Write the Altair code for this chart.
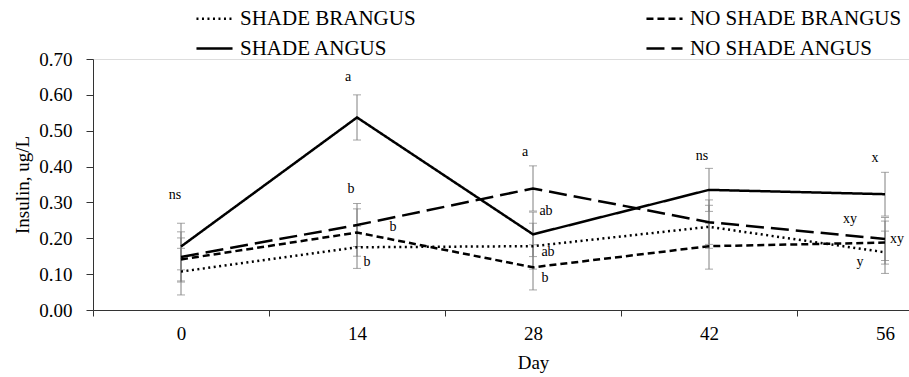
import altair as alt
import pandas as pd

days = [0, 14, 28, 42, 56]
series_names = ["SHADE BRANGUS", "SHADE ANGUS", "NO SHADE BRANGUS", "NO SHADE ANGUS"]

sb_mean = [0.107, 0.175, 0.178, 0.232, 0.161]
sb_se = [0.065, 0.059, 0.064, 0.060, 0.059]
sa_mean = [0.177, 0.537, 0.211, 0.335, 0.323]
sa_se = [0.065, 0.063, 0.062, 0.060, 0.061]
nsb_mean = [0.141, 0.216, 0.119, 0.178, 0.188]
nsb_se = [0.060, 0.066, 0.063, 0.064, 0.060]
nsa_mean = [0.148, 0.237, 0.339, 0.245, 0.198]
nsa_se = [0.070, 0.060, 0.063, 0.062, 0.060]

y_ticks = [0.0, 0.1, 0.2, 0.3, 0.4, 0.5, 0.6, 0.7]

ann_label = ["ns", "a", "b", "b", "b", "a", "ab", "ab", "b", "ns", "x", "xy", "xy", "y"]
ann_day = [0, 14, 14, 14, 14, 28, 28, 28, 28, 42, 56, 56, 56, 56]
ann_value = [0.321, 0.650, 0.337, 0.231, 0.134, 0.441, 0.276, 0.162, 0.089,
             0.429, 0.424, 0.254, 0.198, 0.134]
ann_dx = [-6, -9, -6, 36, 10, -8, 13, 15, 12, -7, -10, -35, 12, -25]

means = [sb_mean, sa_mean, nsb_mean, nsa_mean]
ses = [sb_se, sa_se, nsb_se, nsa_se]
rows = []
for name, m, s in zip(series_names, means, ses):
    for d, mv, sv in zip(days, m, s):
        rows.append({"day": str(d), "series": name, "mean": mv,
                     "lo": mv - sv, "hi": mv + sv})
df = pd.DataFrame(rows)

FONT = "Liberation Serif"
day_order = [str(d) for d in days]

x_enc = alt.X("day:O", sort=day_order, title="Day",
              scale=alt.Scale(range=[0, 880], paddingInner=0, paddingOuter=0),
              axis=alt.Axis(tickBand="extent", labelAngle=0, labelFont=FONT,
                            labelFontSize=19, titleFont=FONT, titleFontSize=19,
                            titleFontWeight="normal", labelColor="black",
                            titleColor="black", domainColor="#333333",
                            tickColor="#333333", tickSize=6, labelPadding=8,
                            titlePadding=10, grid=False))
y_scale = alt.Scale(domain=[0, 0.7], nice=False)
y_axis = alt.Axis(values=y_ticks, format=".2f", labelFont=FONT, labelFontSize=19,
                  labelOverlap=False, titleFont=FONT, titleFontSize=19,
                  titleFontWeight="normal", labelColor="black",
                  titleColor="black", domainColor="#333333",
                  tickColor="#333333", tickSize=7, labelPadding=14,
                  titlePadding=6, grid=False)
Y_TITLE = "Insulin, ug/L"

base = alt.Chart(df)

err = base.mark_rule(color="#808080", strokeWidth=1).encode(
    x=x_enc, y=alt.Y("lo:Q", scale=y_scale, axis=y_axis, title=Y_TITLE), y2="hi:Q")
cap_lo = base.mark_tick(color="#808080", size=8, thickness=1).encode(
    x=x_enc, y=alt.Y("lo:Q", scale=y_scale, axis=y_axis, title=Y_TITLE))
cap_hi = base.mark_tick(color="#808080", size=8, thickness=1).encode(
    x=x_enc, y=alt.Y("hi:Q", scale=y_scale, axis=y_axis, title=Y_TITLE))

lines = base.mark_line(color="black", strokeWidth=2.5).encode(
    x=x_enc,
    y=alt.Y("mean:Q", scale=y_scale, title=Y_TITLE, axis=y_axis),
    strokeDash=alt.StrokeDash(
        "series:N",
        scale=alt.Scale(domain=series_names,
                        range=[[2, 3.5], [1, 0], [7, 4], [18, 7]]),
        legend=alt.Legend(title=None, orient="none", legendX=102, legendY=-60,
                          columns=2, columnPadding=225, rowPadding=-8,
                          symbolType="stroke", symbolStrokeWidth=2.5,
                          symbolSize=1300, symbolStrokeColor="black",
                          labelFont=FONT, labelFontSize=21, labelColor="black",
                          labelOffset=6, labelLimit=400)),
    detail="series:N",
)

texts = []
for lab, d, v, dx in zip(ann_label, ann_day, ann_value, ann_dx):
    tdf = pd.DataFrame({"day": [str(d)], "v": [v], "t": [lab]})
    texts.append(alt.Chart(tdf).mark_text(font=FONT, fontSize=14, color="black",
                                          dx=dx, baseline="middle").encode(
        x=x_enc, y=alt.Y("v:Q", scale=y_scale, axis=y_axis, title=Y_TITLE),
        text="t:N"))

chart = alt.layer(err, cap_lo, cap_hi, lines, *texts).properties(
    width=816, height=251,
    autosize=alt.AutoSizeParams(type="none"),
    padding={"left": 93, "top": 59, "right": 0, "bottom": 67},
).configure_view(stroke=None).configure(background="white")

chart.save("out.html", embed_options={"renderer": "svg", "actions": False})
